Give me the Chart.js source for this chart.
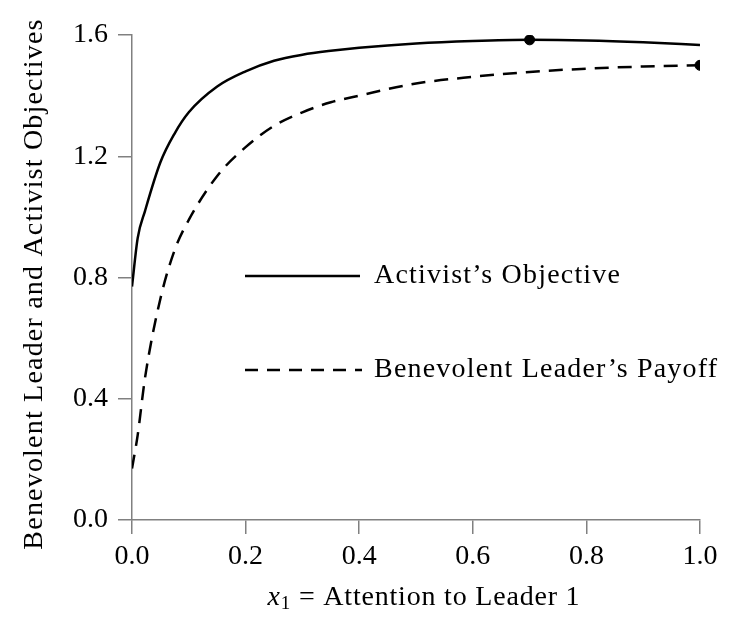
<!DOCTYPE html>
<html>
<head>
<meta charset="utf-8">
<script src="https://cdn.jsdelivr.net/npm/chart.js@4"></script>
<style>
  html, body { margin: 0; padding: 0; background: #fff; }
  #wrap { width: 730px; height: 625px; }
</style>
</head>
<body>
<div id="wrap"><canvas id="objChart" width="730" height="625"></canvas></div>
<script>
// du lieu doc tu hinh
const xValues = [0, 0.01, 0.023, 0.05, 0.075, 0.1, 0.15, 0.2, 0.25, 0.3, 0.35, 0.4, 0.5, 0.6, 0.7, 0.8, 0.9, 1.0];
const activistObjective = [0.77, 0.93, 1.02, 1.18, 1.275, 1.345, 1.43, 1.48, 1.515, 1.535, 1.548, 1.558, 1.572, 1.58, 1.584, 1.582, 1.576, 1.567];
const leaderPayoff = [0.17, 0.28, 0.47, 0.73, 0.89, 0.99, 1.135, 1.23, 1.30, 1.345, 1.378, 1.40, 1.44, 1.462, 1.478, 1.489, 1.496, 1.50];
const markerX = [0.7, 1.0];
const markerY = [1.584, 1.50];
const xTicks = [0, 0.2, 0.4, 0.6, 0.8, 1.0];
const yTicks = [0, 0.4, 0.8, 1.2, 1.6];
const seriesNames = ["Activist\u2019s Objective", "Benevolent Leader\u2019s Payoff"];
const yTitle = "Benevolent Leader and Activist Objectives";

const serif = "'Liberation Serif', 'DejaVu Serif', serif";

function toPoints(xs, ys) {
  return xs.map((x, i) => ({ x: x, y: ys[i] }));
}

// ve chu thich, nhan truc x va truc y
const annotations = {
  id: "annotations",
  afterDraw(chart) {
    const ctx = chart.ctx;
    ctx.save();
    ctx.strokeStyle = "#000";
    ctx.lineWidth = 2.5;
    ctx.fillStyle = "#000";
    ctx.letterSpacing = "1.2px";
    ctx.font = "28px " + serif;
    ctx.textBaseline = "middle";
    ctx.textAlign = "left";
    // solid
    ctx.beginPath();
    ctx.moveTo(245, 276);
    ctx.lineTo(360, 276);
    ctx.stroke();
    ctx.fillText(seriesNames[0], 374, 276);
    // dashed
    ctx.setLineDash([13, 9]);
    ctx.beginPath();
    ctx.moveTo(245, 370);
    ctx.lineTo(362, 370);
    ctx.stroke();
    ctx.setLineDash([]);
    ctx.fillText(seriesNames[1], 374, 370);

    // y title
    ctx.save();
    ctx.translate(35, 284);
    ctx.rotate(-Math.PI / 2);
    ctx.textAlign = "center";
    ctx.fillText(yTitle, 0, 0);
    ctx.restore();

    // x label: x_1 = Attention to Leader 1
    ctx.letterSpacing = "0.8px";
    const y = 598;
    const parts = [
      { t: "x", f: "italic 28px " + serif, dy: 0 },
      { t: "1", f: "19px " + serif, dy: 6 },
      { t: " = Attention to Leader 1", f: "28px " + serif, dy: 0 }
    ];
    let total = 0;
    parts.forEach(p => { ctx.font = p.f; total += ctx.measureText(p.t).width; });
    let x = 424 - total / 2;
    parts.forEach(p => {
      ctx.font = p.f;
      ctx.fillText(p.t, x, y + p.dy);
      x += ctx.measureText(p.t).width;
    });
    ctx.restore();
  }
};

const ctx = document.getElementById("objChart").getContext("2d");
const myChart = new Chart(ctx, {
  type: "line",
  data: {
    datasets: [
      {
        label: seriesNames[0],
        data: toPoints(xValues, activistObjective),
        borderColor: "#000",
        borderWidth: 2.5,
        pointRadius: 0,
        cubicInterpolationMode: "monotone",
        fill: false
      },
      {
        label: seriesNames[1],
        data: toPoints(xValues, leaderPayoff),
        borderColor: "#000",
        borderWidth: 2.5,
        borderDash: [14, 9],
        pointRadius: 0,
        cubicInterpolationMode: "monotone",
        fill: false
      },
      {
        type: "scatter",
        label: "markers",
        data: toPoints(markerX, markerY),
        backgroundColor: "#000",
        borderColor: "#000",
        pointRadius: 5,
        showLine: false
      }
    ]
  },
  options: {
    responsive: false,
    animation: false,
    layout: { padding: { top: 35, right: 30, left: 0, bottom: 0 } },
    plugins: {
      legend: { display: false },
      tooltip: { enabled: false }
    },
    scales: {
      x: {
        type: "linear",
        min: 0,
        max: 1,
        afterBuildTicks(axis) { axis.ticks = xTicks.map(v => ({ value: v })); },
        afterFit(axis) { axis.height = 105; },
        border: { color: "#808080", width: 1.5 },
        grid: { drawOnChartArea: false, drawTicks: true, tickLength: 14, color: "#808080", lineWidth: 1.5 },
        ticks: {
          color: "#000",
          font: { family: serif, size: 28 },
          padding: 6,
          maxRotation: 0,
          callback: v => v.toFixed(1)
        }
      },
      y: {
        min: 0,
        max: 1.6,
        afterBuildTicks(axis) { axis.ticks = yTicks.map(v => ({ value: v })); },
        afterFit(axis) { axis.width = 132; },
        border: { color: "#808080", width: 1.5 },
        grid: { drawOnChartArea: false, drawTicks: true, tickLength: 14, color: "#808080", lineWidth: 1.5 },
        ticks: {
          color: "#000",
          font: { family: serif, size: 28 },
          padding: 10,
          callback: v => v.toFixed(1)
        }
      }
    }
  },
  plugins: [annotations]
});
</script>
</body>
</html>
